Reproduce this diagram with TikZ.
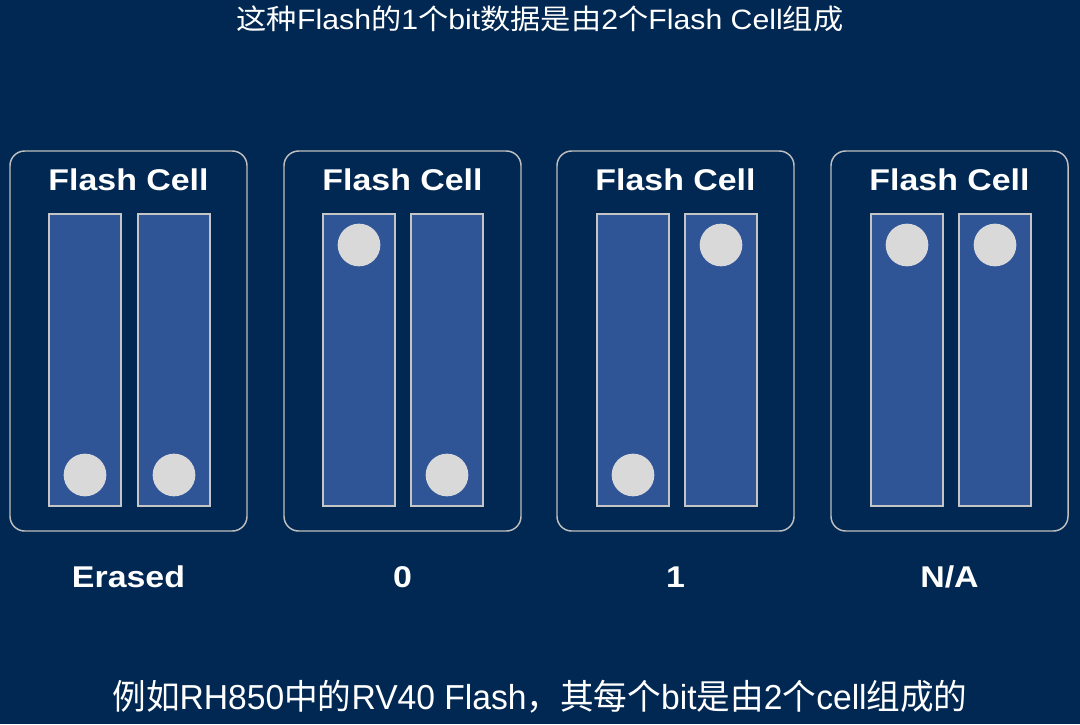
\documentclass[tikz,border=0pt]{standalone}
\usepackage{fontspec}
\setmainfont{Liberation Sans}
\newfontfamily\cjk{Noto Sans CJK SC}
\usepackage{tikz}
\usetikzlibrary{positioning}
\definecolor{PageBg}{HTML}{012852}
\definecolor{BarBlue}{HTML}{2F5597}
\definecolor{DotGray}{HTML}{D9D9D9}
\definecolor{EdgeGray}{HTML}{BFBFBF}

\begin{document}
\begin{tikzpicture}[x=0.75pt,y=-0.75pt,
    cellbox/.style={draw=EdgeGray, line width=1.1pt, rounded corners=11pt,
                    minimum width=177.75pt, minimum height=285pt, inner sep=0pt},
    bar/.style={draw=EdgeGray!90, fill=BarBlue, line width=0.8pt,
                minimum width=54pt, minimum height=219pt, inner sep=0pt},
    dot/.style={circle, fill=DotGray, minimum size=32pt, inner sep=0pt},
    title/.style={text=white, font=\bfseries\fontsize{22.5}{26}\selectfont,
                  transform shape, xscale=1.13, inner sep=0pt},
    caption/.style={text=white, transform shape, inner sep=0pt}]
  \fill[PageBg] (0,0) rectangle (1080,724);
  \useasboundingbox (0,0) rectangle (1080,724);

  % headline
  \node[caption, xscale=1.08, font=\fontsize{21}{25}\selectfont] (top) at (540,19)
    {{\cjk 这种}Flash{\cjk 的}1{\cjk 个}bit{\cjk 数据是由}2{\cjk 个}Flash Cell{\cjk 组成}};

  % the four cell pairs
  \node[cellbox] (cell1) at (128.5,341) {};
  \node[cellbox] (cell2) at (402.5,341) {};
  \node[cellbox] (cell3) at (675.5,341) {};
  \node[cellbox] (cell4) at (949.5,341) {};
  \node[title] (t1) at (128.5,180) {Flash Cell};
  \node[title] (t2) at (402.5,180) {Flash Cell};
  \node[title] (t3) at (675.5,180) {Flash Cell};
  \node[title] (t4) at (949.5,180) {Flash Cell};

  \node[bar] (b1l) at (85,360) {};  \node[bar] (b1r) at (174,360) {};
  \node[bar] (b2l) at (359,360) {}; \node[bar] (b2r) at (447,360) {};
  \node[bar] (b3l) at (633,360) {}; \node[bar] (b3r) at (721,360) {};
  \node[bar] (b4l) at (907,360) {}; \node[bar] (b4r) at (995,360) {};

  % charge positions
  \node[dot] (d1l) at (85,475) {};  \node[dot] (d1r) at (174,475) {};
  \node[dot] (d2l) at (359,245) {}; \node[dot] (d2r) at (447,475) {};
  \node[dot] (d3l) at (633,475) {}; \node[dot] (d3r) at (721,245) {};
  \node[dot] (d4l) at (907,245) {}; \node[dot] (d4r) at (995,245) {};

  \node[title] (l1) at (128.5,577) {Erased};
  \node[title] (l2) at (402.5,577) {0};
  \node[title] (l3) at (675.5,577) {1};
  \node[title] (l4) at (949.5,577) {N/A};

  \node[caption, xscale=0.97, font=\fontsize{26}{30}\selectfont] (bottom) at (540,697)
    {{\cjk 例如}RH850{\cjk 中的}RV40 Flash{\cjk ，其每个}bit{\cjk 是由}2{\cjk 个}cell{\cjk 组成的}};
\end{tikzpicture}
\end{document}
